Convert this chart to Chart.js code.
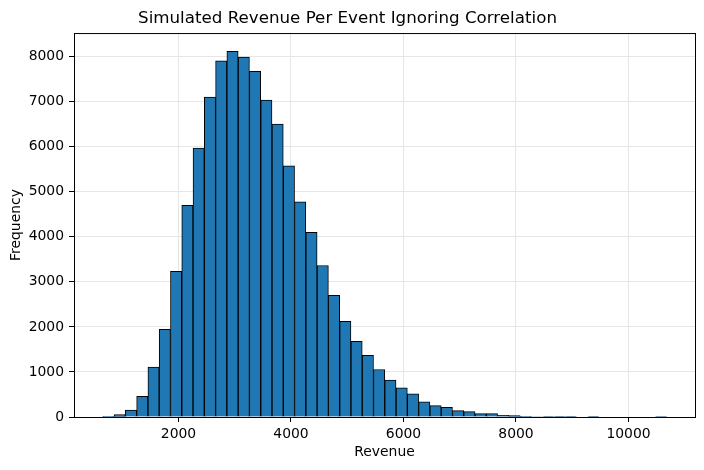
<!DOCTYPE html>
<html>
<head>
    <title>Simulated Revenue Per Event</title>
    <style>
        body { margin: 0; background: #fff; }
        #wrap { width: 704px; height: 470px; }
    </style>
</head>
<body>
    <div id="wrap"><canvas id="hist"></canvas></div>
    <script src="https://cdn.jsdelivr.net/npm/chart.js@4/dist/chart.umd.min.js"></script>
    <script>
        // Histogram bins (50 bins)
        const binStart = 655;
        const binWidth = 200.5;
        const counts = [
            15, 55, 155, 460, 1106, 1947, 3237, 4698, 5973, 7102,
            7906, 8119, 7994, 7677, 7035, 6504, 5575, 4779, 4100, 3363,
            2699, 2124, 1681, 1372, 1055, 818, 649, 516, 339, 251,
            214, 140, 118, 74, 74, 37, 30, 15, 12, 10,
            8, 6, 0, 8, 0, 0, 0, 0, 0, 1
        ];
        const xTicks = [2000, 4000, 6000, 8000, 10000];
        const yTicks = [0, 1000, 2000, 3000, 4000, 5000, 6000, 7000, 8000];

        const points = counts.map((c, i) => ({ x: binStart + binWidth * (i + 0.5), y: c }));

        const font = 'DejaVu Sans';

        // cadre noir autour de la zone du graphique
        const frame = {
            id: 'frame',
            afterDatasetsDraw(chart) {
                const a = chart.chartArea, ctx = chart.ctx;
                ctx.save();
                ctx.strokeStyle = '#000';
                ctx.lineWidth = 1;
                ctx.strokeRect(a.left + 0.5, a.top + 0.5, a.right - a.left, a.bottom - a.top);
                ctx.restore();
            }
        };

        new Chart(document.getElementById('hist'), {
            type: 'bar',
            data: {
                datasets: [{
                    data: points,
                    backgroundColor: '#1f77b4',
                    borderColor: '#000',
                    borderWidth: 1,
                    barPercentage: 1,
                    categoryPercentage: 1
                }]
            },
            options: {
                responsive: true,
                maintainAspectRatio: false,
                animation: false,
                layout: { padding: { left: 0, right: 9, top: 0, bottom: 0 } },
                plugins: {
                    legend: { display: false },
                    tooltip: { enabled: false },
                    title: {
                        display: true,
                        text: 'Simulated Revenue Per Event Ignoring Correlation',
                        color: '#000',
                        font: { family: font, size: 16.7, weight: 'normal' },
                        padding: { top: 9, bottom: 4 }
                    }
                },
                scales: {
                    x: {
                        type: 'linear',
                        min: 143,
                        max: 11182,
                        offset: false,
                        afterBuildTicks: s => { s.ticks = xTicks.map(v => ({ value: v })); },
                        afterFit: s => { s.height = 53; },
                        grid: { offset: false, color: '#e6e6e6', tickColor: '#000', tickLength: 5 },
                        border: { color: '#000' },
                        ticks: {
                            color: '#000', padding: 4, maxRotation: 0,
                            font: { family: font, size: 13.9 },
                            callback: v => String(v)
                        },
                        title: {
                            display: true, text: 'Revenue', color: '#000',
                            font: { family: font, size: 13.9 },
                            padding: { top: 0, bottom: 9.5 }
                        }
                    },
                    y: {
                        min: 0,
                        max: 8525,
                        afterBuildTicks: s => { s.ticks = yTicks.map(v => ({ value: v })); },
                        afterFit: s => { s.width = 74; },
                        grid: { color: '#e6e6e6', tickColor: '#000', tickLength: 5 },
                        border: { color: '#000' },
                        ticks: {
                            color: '#000', padding: 5,
                            font: { family: font, size: 13.9 },
                            callback: v => String(v)
                        },
                        title: {
                            display: true, text: 'Frequency', color: '#000',
                            font: { family: font, size: 13.9 },
                            padding: { top: 8.5, bottom: 0 }
                        }
                    }
                }
            },
            plugins: [frame]
        });
    </script>
</body>
</html>
